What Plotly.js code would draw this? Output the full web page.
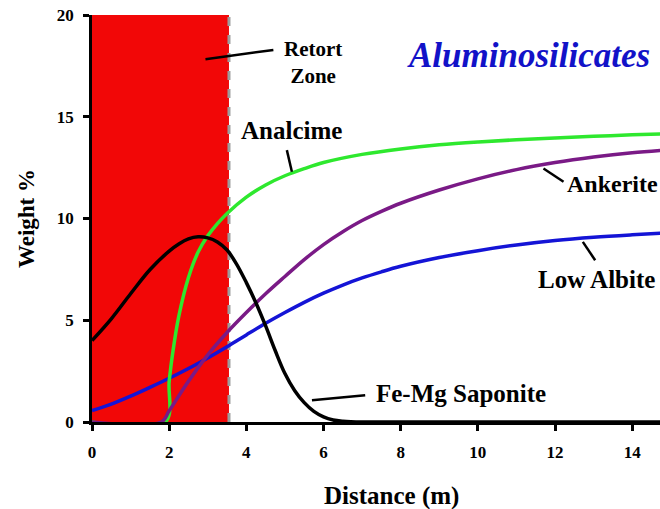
<!DOCTYPE html>
<html>
<head>
<meta charset="utf-8">
<script src="https://cdn.plot.ly/plotly-3.0.1.min.js"></script>
</head>
<body style="margin:0">
<div id="chart" style="width:660px;height:509px"></div>
<script>
// Mineral weight fractions along the distance from the retort (m)
const distFeMg = [0, 0.5, 1.0, 1.5, 2.0, 2.25, 2.5, 2.75, 3.0, 3.25, 3.5, 3.75, 4.0, 4.25, 4.5, 4.75, 5.0, 5.25, 5.5, 5.75, 6.0, 6.25, 6.5, 7.0, 8, 10, 12, 15];
const feMgSaponite = [4.0, 5.07, 6.3, 7.48, 8.4, 8.75, 9.0, 9.1, 9.05, 8.85, 8.45, 7.75, 6.85, 5.85, 4.72, 3.5, 2.38, 1.55, 0.95, 0.52, 0.25, 0.1, 0.04, 0, 0, 0, 0, 0];

const distAnalcime = [0, 1.9, 2.0, 2.1, 2.25, 2.5, 2.75, 3.0, 3.25, 3.5, 4.0, 4.5, 5.0, 5.5, 6.0, 7.0, 8.0, 9.0, 10.0, 11.0, 12.0, 13.0, 14.0, 15.0];
const analcime = [0, 0, 2.0, 3.5, 5.2, 7.1, 8.35, 9.15, 9.75, 10.25, 11.05, 11.65, 12.1, 12.45, 12.75, 13.15, 13.42, 13.62, 13.76, 13.87, 13.96, 14.04, 14.11, 14.17];

const distAnkerite = [0, 1.8, 2.0, 2.5, 3.0, 3.5, 4.0, 4.5, 5.0, 5.5, 6.0, 6.5, 7.0, 7.5, 8.0, 9.0, 10.0, 11.0, 12.0, 13.0, 14.0, 15.0];
const ankerite = [0, 0, 0.55, 2.0, 3.3, 4.4, 5.38, 6.3, 7.15, 7.98, 8.72, 9.35, 9.9, 10.35, 10.75, 11.4, 11.95, 12.4, 12.75, 13.02, 13.23, 13.38];

const distAlbite = [0, 0.5, 1.0, 1.5, 2.0, 2.5, 3.0, 3.5, 4.0, 4.5, 5.0, 5.5, 6.0, 6.5, 7.0, 7.5, 8.0, 9.0, 10.0, 11.0, 12.0, 13.0, 14.0, 15.0];
const lowAlbite = [0.56, 0.88, 1.27, 1.7, 2.15, 2.63, 3.15, 3.7, 4.28, 4.85, 5.38, 5.88, 6.33, 6.73, 7.08, 7.38, 7.65, 8.08, 8.42, 8.7, 8.92, 9.08, 9.2, 9.3];

// Retort zone extent (m) and axis ticks
const retortEnd = 3.55;
const xTicks = [0, 2, 4, 6, 8, 10, 12, 14];
const yTicks = [0, 5, 10, 15, 20];

// Label leader lines: [x0, y0, x1, y1] in data units
const leaders = {
  retort:   [2.94, 17.83, 4.70, 18.28],
  analcime: [5.05, 13.36, 5.18, 12.30],
  ankerite: [11.70, 12.46, 12.22, 11.81],
  albite:   [12.72, 8.85, 13.04, 7.95],
  saponite: [5.70, 1.07, 7.08, 1.31]
};

const serif = 'Times New Roman';

function curve(x, y, color) {
  return {
    x: x, y: y, type: 'scatter', mode: 'lines',
    line: { color: color, width: 3.5, shape: 'spline', smoothing: 1 },
    hoverinfo: 'skip'
  };
}

const traces = [
  curve(distAlbite, lowAlbite, '#1414d6'),
  curve(distAnalcime, analcime, '#2ee82e'),
  curve(distAnkerite, ankerite, '#7a1a86'),
  curve(distFeMg, feMgSaponite, '#000000')
];

function leaderShape(seg) {
  return {
    type: 'line', xref: 'x', yref: 'y',
    x0: seg[0], y0: seg[1], x1: seg[2], y1: seg[3],
    line: { color: '#000000', width: 2.5 }
  };
}

const shapes = [
  {
    type: 'rect', xref: 'x', yref: 'y', layer: 'below',
    x0: 0, x1: retortEnd, y0: 0, y1: 20,
    fillcolor: '#f20707', line: { width: 0 }
  },
  {
    type: 'line', xref: 'x', yref: 'y', layer: 'below',
    x0: retortEnd, x1: retortEnd, y0: 0, y1: 20,
    line: { color: '#9c9c9c', width: 3, dash: 'dash' }
  }
].concat(Object.values(leaders).map(leaderShape));

function label(text, x, y, size, xanchor) {
  return {
    text: '<b>' + text + '</b>', x: x, y: y, xref: 'x', yref: 'y',
    xanchor: xanchor || 'center', yanchor: 'middle', showarrow: false,
    font: { family: serif, size: size, color: '#000000' }
  };
}

const annotations = [
  label('Retort<br>Zone', 5.72, 17.65, 21),
  label('Analcime', 5.16, 14.3, 25),
  label('Ankerite', 12.27, 11.69, 24, 'left'),
  label('Low Albite', 11.5, 7.0, 25, 'left'),
  label('Fe-Mg Saponite', 7.3, 1.41, 25, 'left'),
  {
    text: '<b><i>Aluminosilicates</i></b>', x: 8.1, y: 18.0, xref: 'x', yref: 'y',
    xanchor: 'left', yanchor: 'middle', showarrow: false,
    font: { family: serif, size: 35, color: '#1212c8' }
  },
  // x-axis caption, centred under the full distance span of the run
  {
    text: '<b>Distance (m)</b>', x: 7.75, y: -0.182, xref: 'x', yref: 'paper',
    xanchor: 'center', yanchor: 'middle', showarrow: false,
    font: { family: serif, size: 25, color: '#000000' }
  }
];

const axisCommon = {
  showline: true, linecolor: '#000000', linewidth: 2.5,
  showgrid: false, zeroline: false,
  tickcolor: '#000000', tickwidth: 2.5, ticklen: 6
};

const tickFont = { family: serif, size: 17, color: '#000000' };

const layout = {
  width: 660, height: 509,
  margin: { l: 92, r: 0, t: 15, b: 87 },
  paper_bgcolor: '#ffffff', plot_bgcolor: '#ffffff',
  showlegend: false,
  xaxis: Object.assign({}, axisCommon, {
    range: [0, 14.72], tickmode: 'array', tickvals: xTicks,
    ticktext: xTicks.map(v => '<b>' + v + '</b>'),
    ticks: 'outside', ticklabelstandoff: 7, tickfont: tickFont
  }),
  xaxis2: Object.assign({}, axisCommon, {
    overlaying: 'x', matches: 'x', side: 'top', anchor: 'y',
    range: [0, 14.72], tickmode: 'array',
    tickvals: xTicks.filter(v => v > retortEnd),
    ticks: 'inside', showticklabels: false
  }),
  yaxis: Object.assign({}, axisCommon, {
    range: [0, 20], tickmode: 'array', tickvals: yTicks,
    ticktext: yTicks.map(v => '<b>' + v + '</b>'),
    ticks: 'outside', ticklabelstandoff: 6, tickfont: tickFont,
    title: { text: '<b>Weight %</b>', standoff: 16,
             font: { family: serif, size: 23, color: '#000000' } }
  }),
  shapes: shapes,
  annotations: annotations
};

Plotly.newPlot('chart', traces, layout, { displayModeBar: false });
</script>
</body>
</html>
